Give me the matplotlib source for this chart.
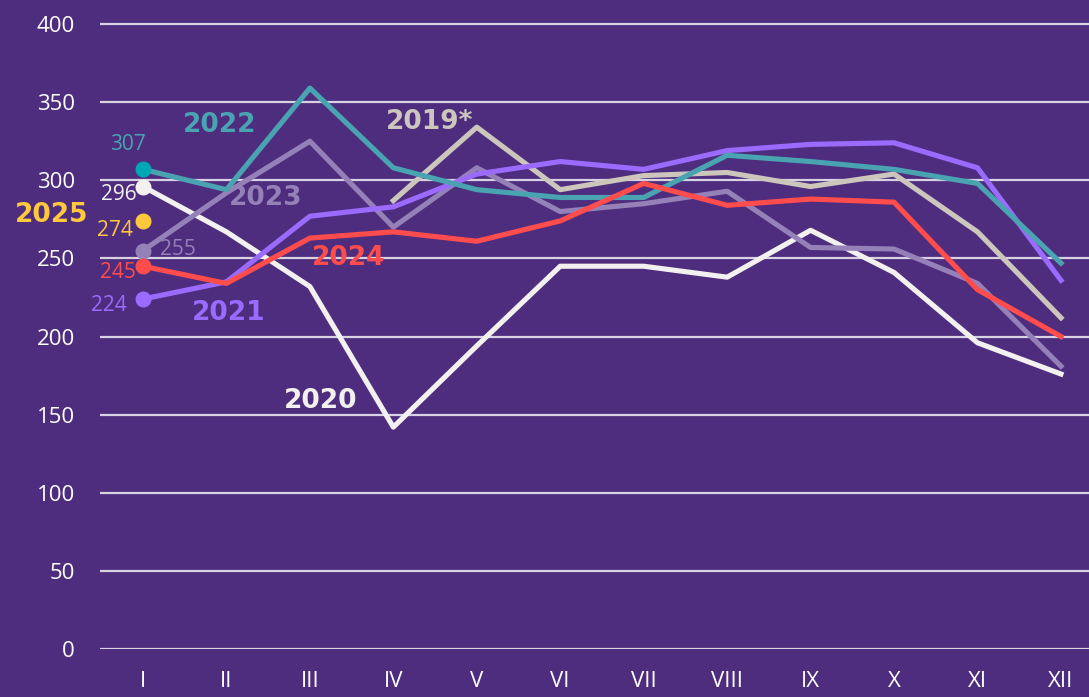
import numpy as np
import matplotlib.pyplot as plt

months = ["I", "II", "III", "IV", "V", "VI", "VII", "VIII", "IX", "X", "XI", "XII"]
nan = np.nan

y2019 = [nan, nan, nan, 287, 334, 294, 303, 305, 296, 304, 267, 212]
y2020 = [296, 267, 232, 142, 194, 245, 245, 238, 268, 241, 196, 176]
y2021 = [224, 235, 277, 283, 304, 312, 307, 319, 323, 324, 308, 236]
y2022 = [307, 294, 359, 308, 294, 289, 289, 316, 312, 307, 298, 247]
y2023 = [255, 292, 325, 270, 308, 280, 285, 293, 257, 256, 234, 181]
y2024 = [245, 234, 263, 267, 261, 274, 298, 284, 288, 286, 230, 200]
y2025 = [274]

BG = "#4e2d7e"
GRID = "#d9d2e3"
C2019 = "#cdc6bd"
C2020 = "#f3f1ef"
C2021 = "#9b6bff"
C2022 = "#4aa3b0"
C2023 = "#9580b8"
C2024 = "#ff4d4d"
C2025 = "#ffc83d"

plt.rcParams['font.family'] = ['Open Sans', 'DejaVu Sans']

fig = plt.figure(figsize=(10.89, 6.97), dpi=100, facecolor=BG)
ax = fig.add_axes([100 / 1089, 48 / 697, 989 / 1089, 649 / 697])
ax.set_facecolor(BG)

x = np.arange(len(months))
lw = 3.7
ax.plot(x, y2020, color=C2020, lw=lw, zorder=3)
ax.plot(x, y2019, color=C2019, lw=lw, zorder=3)
ax.plot(x, y2023, color=C2023, lw=lw, zorder=4)
ax.plot(x, y2021, color=C2021, lw=lw, zorder=5)
ax.plot(x, y2022, color=C2022, lw=lw, zorder=5)
ax.plot(x, y2024, color=C2024, lw=lw, zorder=6)

# first-month markers
ax.plot(0, y2020[0], "o", color=C2020, ms=10.5, zorder=7, clip_on=False)
ax.plot(0, y2021[0], "o", color=C2021, ms=10.5, zorder=7, clip_on=False)
ax.plot(0, y2022[0], "o", color="#00a8b5", ms=10.5, zorder=7, clip_on=False)
ax.plot(0, y2023[0], "o", color=C2023, ms=10.5, zorder=7, clip_on=False)
ax.plot(0, y2024[0], "o", color=C2024, ms=10.5, zorder=7, clip_on=False)
ax.plot(0, y2025[0], "o", color=C2025, ms=10.5, zorder=7, clip_on=False)

ax.set_xlim(-0.515, 11.336)
ax.set_ylim(0, 415.4)
ax.set_yticks(range(0, 401, 50))
ax.set_xticks(x)
ax.set_xticklabels(months)
ax.grid(axis="y", color=GRID, lw=1.6)
ax.set_axisbelow(True)
for s in ax.spines.values():
    s.set_visible(False)
ax.tick_params(axis="both", length=0, colors="#ffffff", labelsize=16)
ax.tick_params(axis="y", pad=18)
ax.tick_params(axis="x", pad=16)

# series names
big = dict(fontsize=19, fontweight="bold", family="DejaVu Sans",
           ha="center", va="center", zorder=8)
ax.text(0.92, 335.4, "2022", color=C2022, **big)
ax.text(3.44, 337, "2019*", color=C2019, **big)
ax.text(1.47, 288.6, "2023", color=C2023, **big)
ax.text(-1.09, 277.8, "2025", color=C2025, clip_on=False, **big)
ax.text(2.46, 250, "2024", color=C2024, **big)
ax.text(1.03, 215, "2021", color=C2021, **big)
ax.text(2.13, 159, "2020", color=C2020, **big)

# first-month values
small = dict(fontsize=15, va="center", zorder=8)
ax.text(-0.18, 322.6, "307", color=C2022, ha="center", **small)
ax.text(-0.08, 290.6, "296", color=C2020, ha="right", **small)
ax.text(-0.12, 268, "274", color=C2025, ha="right", **small)
ax.text(0.2, 256, "255", color=C2023, ha="left", **small)
ax.text(-0.09, 241, "245", color=C2024, ha="right", **small)
ax.text(-0.19, 220, "224", color=C2021, ha="right", **small)

fig.savefig("out.png", dpi=100, facecolor=BG)
